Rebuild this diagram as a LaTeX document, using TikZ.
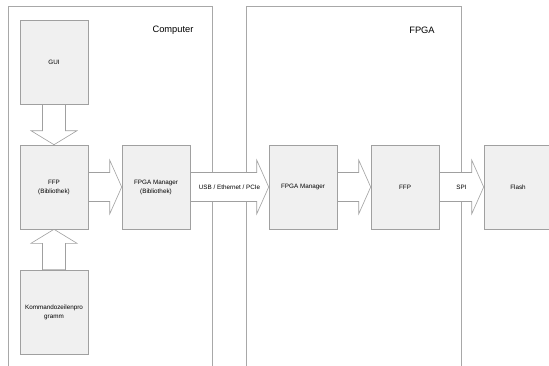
\documentclass[tikz,border=0pt]{standalone}
\usepackage{fontspec}
\setmainfont{Liberation Sans}
\usetikzlibrary{calc,backgrounds}
\definecolor{linegray}{HTML}{A8A8A8}
\definecolor{boxfill}{HTML}{F0F0F0}
\definecolor{boxline}{HTML}{A0A0A0}
\newcommand\hblockarrow[3]{%
  \draw[blockarrow] ($(#1.east)+(0,-14.5)$) -- ($(#2.west)+(-12,-14.5)$) -- ($(#2.west)+(-12,-27)$) -- (#2.west) -- ($(#2.west)+(-12,27)$) -- ($(#2.west)+(-12,14.5)$) -- ($(#1.east)+(0,14.5)$) -- cycle;}
\newcommand\vblockarrow[3]{%
  \draw[blockarrow] ($(#1)+(-11.5,0)$) -- ($(#2)+(-11.5,#3)$) -- ($(#2)+(-23,#3)$) -- (#2) -- ($(#2)+(23,#3)$) -- ($(#2)+(11.5,#3)$) -- ($(#1)+(11.5,0)$) -- cycle;}
\begin{document}
\begin{tikzpicture}[x=1pt,y=-1pt,
  box/.style={draw=boxline, fill=boxfill, line width=0.6pt, minimum width=68pt, minimum height=84pt, inner sep=0pt, align=center, font=\fontsize{6.3}{9}\selectfont},
  container/.style={draw=linegray, line width=0.6pt},
  blockarrow/.style={draw=boxline, fill=white, line width=0.6pt, line join=miter},
  title/.style={font=\fontsize{9.3}{11}\selectfont},
  lbl/.style={font=\fontsize{6.3}{8}\selectfont, inner sep=0pt}]
\useasboundingbox (0,0) rectangle (549,365);
% boxes
\node[box] (gui) at (54,62) {GUI};
\node[box] (ffpl) at (54,187) {FFP\\(Bibliothek)};
\node[box] (mgrl) at (156,187) {FPGA Manager\\(Bibliothek)};
\node[box] (kmd) at (54,312) {Kommandozeilenpro\\gramm};
\node[box] (mgrr) at (303,187) {FPGA Manager};
\node[box] (ffpr) at (405,187) {FFP};
\node[box] (flash) at (518,187) {Flash};
% titles
\node[title] (comptitle) at (173,30) {Computer};
\node[title] (fpgatitle) at (422,30) {FPGA};
\begin{pgfonlayer}{background}
  \draw[container] (8,380) -- (8,6) -- (212,6) -- (212,380);
  \draw[container] (246,380) -- (246,6) -- (461.7,6) -- (461.7,380);
  \vblockarrow{gui.south}{ffpl.north}{-14}
  \vblockarrow{kmd.north}{ffpl.south}{14}
  \hblockarrow{ffpl}{mgrl}{}
  \hblockarrow{mgrl}{mgrr}{}
  \hblockarrow{mgrr}{ffpr}{}
  \hblockarrow{ffpr}{flash}{}
\end{pgfonlayer}
\path (mgrl.east) -- node[lbl] (usb) {USB / Ethernet / PCIe} (mgrr.west);
\path (ffpr.east) -- node[lbl] (spi) {SPI} (flash.west);
\end{tikzpicture}
\end{document}
